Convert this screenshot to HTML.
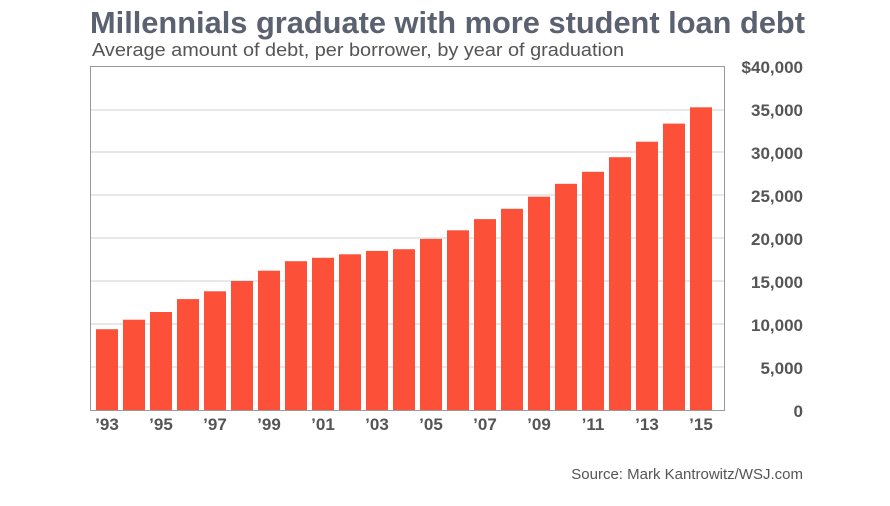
<!DOCTYPE html>
<html><head><meta charset="utf-8"><style>
body{margin:0;background:#fff;width:890px;height:501px;overflow:hidden;font-family:"Liberation Sans",sans-serif}
</style></head><body>
<svg width="890" height="501" xmlns="http://www.w3.org/2000/svg" font-family="Liberation Sans, sans-serif">
<text x="90" y="33" font-size="31" font-weight="bold" fill="#5b6170" textLength="715" lengthAdjust="spacingAndGlyphs">Millennials graduate with more student loan debt</text>
<text x="92" y="56" font-size="18" fill="#555" textLength="532" lengthAdjust="spacingAndGlyphs">Average amount of debt, per borrower, by year of graduation</text>
<g stroke="#d0d0d0" stroke-width="1">
<line x1="90" x2="725" y1="110" y2="110"/><line x1="90" x2="725" y1="152" y2="152"/>
<line x1="90" x2="725" y1="195" y2="195"/><line x1="90" x2="725" y1="238" y2="238"/>
<line x1="90" x2="725" y1="281" y2="281"/><line x1="90" x2="725" y1="324" y2="324"/>
<line x1="90" x2="725" y1="367" y2="367"/>
</g>
<g fill="#fd5039">
<rect x="96" y="329.2" width="22" height="80.8"/>
<rect x="123" y="319.7" width="22" height="90.3"/>
<rect x="150" y="312" width="22" height="98"/>
<rect x="177" y="299.1" width="22" height="110.9"/>
<rect x="204" y="291.3" width="22" height="118.7"/>
<rect x="231" y="281" width="22" height="129"/>
<rect x="258" y="270.7" width="22" height="139.3"/>
<rect x="285" y="261.2" width="22" height="148.8"/>
<rect x="312" y="257.8" width="22" height="152.2"/>
<rect x="339" y="254.3" width="22" height="155.7"/>
<rect x="366" y="250.9" width="22" height="159.1"/>
<rect x="393" y="249.2" width="22" height="160.8"/>
<rect x="420" y="238.9" width="22" height="171.1"/>
<rect x="447" y="230.3" width="22" height="179.7"/>
<rect x="474" y="219.1" width="22" height="190.9"/>
<rect x="501" y="208.8" width="22" height="201.2"/>
<rect x="528" y="196.7" width="22" height="213.3"/>
<rect x="555" y="183.8" width="22" height="226.2"/>
<rect x="582" y="171.8" width="22" height="238.2"/>
<rect x="609" y="157.2" width="22" height="252.8"/>
<rect x="636" y="141.7" width="22" height="268.3"/>
<rect x="663" y="123.6" width="22" height="286.4"/>
<rect x="690" y="107.3" width="22" height="302.7"/>
</g>
<rect x="90.5" y="66.5" width="634" height="344" fill="none" stroke="#999" stroke-width="1"/>
<g font-size="17" font-weight="bold" fill="#555" text-anchor="end">
<text x="803" y="73">$40,000</text><text x="803" y="116">35,000</text><text x="803" y="159">30,000</text>
<text x="803" y="202">25,000</text><text x="803" y="245">20,000</text><text x="803" y="288">15,000</text>
<text x="803" y="331">10,000</text><text x="803" y="374">5,000</text><text x="803" y="417">0</text>
</g>
<g font-size="17" font-weight="bold" fill="#555" text-anchor="middle">
<text x="107" y="430">’93</text><text x="161" y="430">’95</text><text x="215" y="430">’97</text>
<text x="269" y="430">’99</text><text x="323" y="430">’01</text><text x="377" y="430">’03</text>
<text x="431" y="430">’05</text><text x="485" y="430">’07</text><text x="539" y="430">’09</text>
<text x="593" y="430">’11</text><text x="647" y="430">’13</text><text x="701" y="430">’15</text>
</g>
<text x="803" y="479" font-size="15" fill="#555" text-anchor="end">Source: Mark Kantrowitz/WSJ.com</text>
</svg>
</body></html>
